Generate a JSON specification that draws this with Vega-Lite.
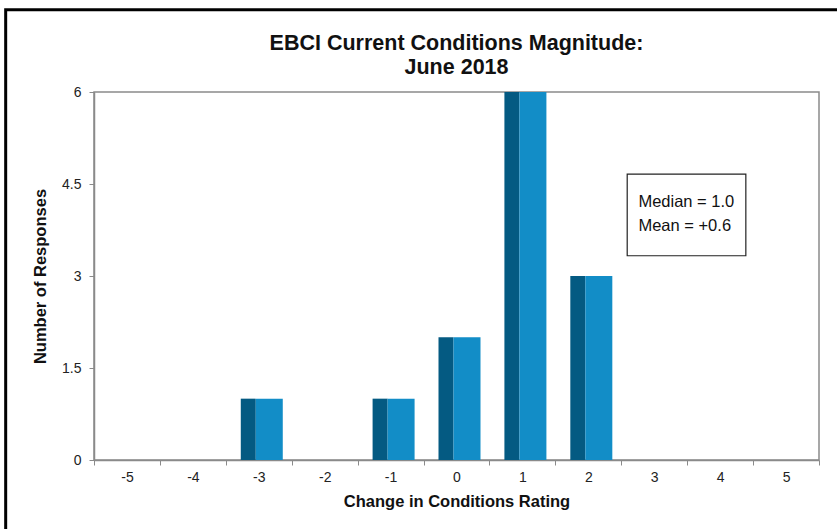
{
  "$schema": "https://vega.github.io/schema/vega-lite/v6.json",
  "autosize": "none",
  "width": 725,
  "height": 368,
  "padding": {"left": 94, "top": 92, "right": 18, "bottom": 69},
  "background": "white",
  "config": {
    "font": "Liberation Sans",
    "view": {"stroke": "#8a8a8a", "strokeWidth": 1.5},
    "axis": {
      "labelFont": "Liberation Sans",
      "titleFont": "Liberation Sans",
      "labelFontSize": 14,
      "labelColor": "#222222",
      "titleFontSize": 16.5,
      "titleFontWeight": "bold",
      "titleColor": "#111111",
      "domainColor": "#8a8a8a",
      "domainWidth": 1.5,
      "tickColor": "#8a8a8a",
      "tickSize": 5,
      "grid": false
    }
  },
  "title": {
    "text": ["EBCI Current Conditions Magnitude:", "June 2018"],
    "font": "Liberation Sans",
    "fontSize": 21.5,
    "fontWeight": "bold",
    "color": "#111111",
    "lineHeight": 24,
    "anchor": "middle",
    "frame": "group",
    "offset": -70
  },
  "data": {
    "values": [
      {"rating": -5, "responses": 0},
      {"rating": -4, "responses": 0},
      {"rating": -3, "responses": 1},
      {"rating": -2, "responses": 0},
      {"rating": -1, "responses": 1},
      {"rating": 0, "responses": 2},
      {"rating": 1, "responses": 6},
      {"rating": 2, "responses": 3},
      {"rating": 3, "responses": 0},
      {"rating": 4, "responses": 0},
      {"rating": 5, "responses": 0}
    ]
  },
  "layer": [
    {
      "layer": [
        {
          "mark": {"type": "bar", "color": "#045A82", "width": 15, "xOffset": -10.5},
          "encoding": {
            "x": {
              "field": "rating",
              "type": "ordinal",
              "sort": [-5, -4, -3, -2, -1, 0, 1, 2, 3, 4, 5],
              "scale": {"paddingInner": 0, "paddingOuter": 0},
              "axis": {
                "title": "Change in Conditions Rating",
                "labelAngle": 0,
                "labelFontSize": 14,
                "tickBand": "extent",
                "labelPadding": 5,
                "titlePadding": 9
              }
            },
            "y": {
              "field": "responses",
              "type": "quantitative",
              "scale": {"domain": [0, 6], "nice": false},
              "axis": {
                "title": "Number of Responses",
                "values": [0, 1.5, 3, 4.5, 6],
                "format": "~g",
                "labelFontSize": 14,
                "labelPadding": 8,
                "titlePadding": 13
              }
            }
          }
        },
        {
          "mark": {"type": "bar", "color": "#128DC7", "width": 27, "xOffset": 10.5},
          "encoding": {
            "x": {
              "field": "rating",
              "type": "ordinal",
              "sort": [-5, -4, -3, -2, -1, 0, 1, 2, 3, 4, 5]
            },
            "y": {"field": "responses", "type": "quantitative", "scale": {"domain": [0, 6], "nice": false}}
          }
        }
      ]
    },
    {
      "data": {"values": [{}]},
      "layer": [
        {
          "mark": {"type": "rect", "fill": "white", "stroke": "#222222", "strokeWidth": 1.2, "clip": false},
          "encoding": {
            "x": {"datum": 2.59, "type": "quantitative", "scale": {"domain": [-5.5, 5.5], "nice": false, "zero": false}, "axis": null},
            "x2": {"datum": 4.39},
            "y": {"datum": 4.66, "type": "quantitative", "scale": {"domain": [0, 6], "nice": false}},
            "y2": {"datum": 3.33}
          }
        },
        {
          "mark": {"type": "text", "text": "Median = 1.0", "align": "left", "baseline": "middle", "fontSize": 16.5, "font": "Liberation Sans", "color": "#111111"},
          "encoding": {
            "x": {"datum": 2.76, "type": "quantitative", "scale": {"domain": [-5.5, 5.5], "nice": false, "zero": false}, "axis": null},
            "y": {"datum": 4.21, "type": "quantitative", "scale": {"domain": [0, 6], "nice": false}}
          }
        },
        {
          "mark": {"type": "text", "text": "Mean = +0.6", "align": "left", "baseline": "middle", "fontSize": 16.5, "font": "Liberation Sans", "color": "#111111"},
          "encoding": {
            "x": {"datum": 2.76, "type": "quantitative", "scale": {"domain": [-5.5, 5.5], "nice": false, "zero": false}, "axis": null},
            "y": {"datum": 3.82, "type": "quantitative", "scale": {"domain": [0, 6], "nice": false}}
          }
        },
        {
          "mark": {"type": "rect", "fill": null, "stroke": "#000000", "strokeWidth": 3, "clip": false},
          "encoding": {
            "x": {"datum": -6.84, "type": "quantitative", "scale": {"domain": [-5.5, 5.5], "nice": false, "zero": false}, "axis": null},
            "x2": {"datum": 5.9},
            "y": {"datum": 7.34, "type": "quantitative", "scale": {"domain": [0, 6], "nice": false}},
            "y2": {"datum": -1.3}
          }
        }
      ]
    }
  ],
  "resolve": {"scale": {"x": "independent"}}
}
